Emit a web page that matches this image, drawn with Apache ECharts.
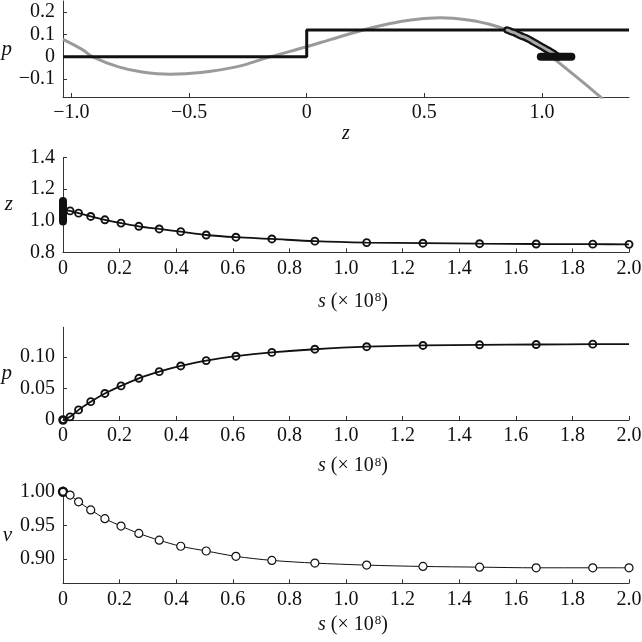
<!DOCTYPE html>
<html>
<head>
<meta charset="utf-8">
<script src="https://cdn.jsdelivr.net/npm/echarts@6/dist/echarts.min.js"></script>
<style>
html,body{margin:0;padding:0;background:#fff;}
#chart{width:642px;height:642px;}
</style>
</head>
<body>
<div id="chart"></div>
<script>
// ---- data ----
// time samples (s, x 10^8)
const sVals = [0, 0.025, 0.055, 0.098, 0.148, 0.205, 0.268, 0.34, 0.416, 0.506, 0.611, 0.738, 0.89, 1.073, 1.272, 1.472, 1.672, 1.872, 2.0];
const zVals = [1.07, 1.062, 1.048, 1.027, 1.006, 0.985, 0.965, 0.948, 0.931, 0.91, 0.896, 0.885, 0.871, 0.862, 0.858, 0.855, 0.853, 0.852, 0.851];
const pVals = [0, 0.005, 0.016, 0.029, 0.042, 0.054, 0.066, 0.0765, 0.0855, 0.094, 0.101, 0.107, 0.112, 0.116, 0.118, 0.119, 0.1195, 0.12, 0.12];
const vVals = [1.0, 0.995, 0.985, 0.973, 0.960, 0.949, 0.938, 0.928, 0.919, 0.912, 0.904, 0.898, 0.894, 0.891, 0.889, 0.888, 0.887, 0.887, 0.887];
// cluster of initial positions at s = 0
const zInit = [0.995, 1.02, 1.04, 1.06, 1.08, 1.10, 1.125];
// gray curve in the (z, p) panel
const curveZ = [-1.036, -0.95, -0.91, -0.8, -0.7, -0.58, -0.45, -0.3, -0.156, 0, 0.1, 0.24, 0.35, 0.45, 0.57, 0.7, 0.78, 0.85, 0.92, 0.98, 1.04, 1.1, 1.17, 1.26];
const curveP = [0.078, 0.03, 0.0, -0.045, -0.068, -0.078, -0.07, -0.045, 0.0, 0.045, 0.077, 0.12, 0.148, 0.166, 0.175, 0.163, 0.145, 0.122, 0.09, 0.05, 0.0, -0.05, -0.11, -0.19];
// step function
const stepZ = [-1.036, 0, 1.37];
const stepP = [0, 0.12, 0.12];
// tick values
const zTicksTop = [-1, -0.5, 0, 0.5, 1];
const pTicksTop = [-0.1, 0, 0.1, 0.2];
const sTicks = [0, 0.2, 0.4, 0.6, 0.8, 1.0, 1.2, 1.4, 1.6, 1.8, 2.0];
const zTicks = [0.8, 1.0, 1.2, 1.4];
const pTicks = [0, 0.05, 0.1];
const vTicks = [0.9, 0.95, 1.0];

// ---- helpers ----
function fmt(dec, zeroPlain) {
  return function (v) {
    if (zeroPlain && Math.abs(v) < 1e-9) return '0';
    const s = Number(v).toFixed(dec);
    return s.replace('-', '\u2212');
  };
}
const FONT = 'Liberation Serif';
const FS = 20;
const TXT = '#111';
const AX = '#333';
function xAxisCfg(grid, min, max, ticks, f, name, gap, namePad) {
  return {
    type: 'value', gridIndex: grid, min: min, max: max,
    axisLine: {show: true, onZero: false, lineStyle: {color: AX, width: 1}},
    axisTick: {show: true, inside: true, length: 4, customValues: ticks, lineStyle: {color: AX}},
    axisLabel: {show: true, customValues: ticks, formatter: f, margin: 6, fontFamily: FONT, fontSize: FS, color: TXT, showMinLabel: true, showMaxLabel: true, hideOverlap: false},
    splitLine: {show: false},
    name: name, nameLocation: 'middle', nameGap: gap,
    nameTextStyle: {fontFamily: FONT, fontSize: FS, color: TXT, padding: namePad || 0,
      rich: {it: {fontFamily: FONT, fontStyle: 'italic', fontSize: FS, color: TXT},
             n: {fontFamily: FONT, fontSize: FS, color: TXT},
             sup: {fontFamily: FONT, fontSize: 13, color: TXT, verticalAlign: 'top', padding: [0, 0, 0, 1]}}}
  };
}
function yAxisCfg(grid, min, max, ticks, f, name, gap, namePad) {
  return {
    type: 'value', gridIndex: grid, min: min, max: max,
    axisLine: {show: true, onZero: false, lineStyle: {color: AX, width: 1}},
    axisTick: {show: true, inside: true, length: 4, customValues: ticks, lineStyle: {color: AX}},
    axisLabel: {show: true, customValues: ticks, formatter: f, margin: 8, fontFamily: FONT, fontSize: FS, color: TXT, showMinLabel: true, showMaxLabel: true, hideOverlap: false},
    splitLine: {show: false},
    name: name, nameLocation: 'middle', nameRotate: 0, nameGap: gap,
    nameTextStyle: {fontFamily: FONT, fontStyle: 'italic', fontSize: 21, color: TXT, padding: namePad || 0}
  };
}
const sName = '{it|s}{n| (\u00d7 10}{sup|8}{n|)}';

function zip(a, b) { return a.map((v, i) => [v, b[i]]); }

const trajZP = zip(zVals, pVals);
const initZP = zInit.map(z => [z, pVals[0]]);
const initSZ = zInit.map(z => [sVals[0], z]);

const zSeriesData = sVals.map((s, i) => (i === 0 ? {value: [s, zVals[i]], symbol: 'none'} : [s, zVals[i]]));
const pSeriesData = sVals.map((s, i) => {
  if (i === 0) return {value: [s, pVals[i]], itemStyle: {borderWidth: 2.6}};
  if (i === sVals.length - 1) return {value: [s, pVals[i]], symbol: 'none'};
  return [s, pVals[i]];
});
const vSeriesData = sVals.map((s, i) => (i === 0 ? {value: [s, vVals[i]], itemStyle: {borderWidth: 2.4}} : [s, vVals[i]]));

const chart = echarts.init(document.getElementById('chart'), null, {renderer: 'canvas'});
chart.setOption({
  animation: false,
  backgroundColor: '#fff',
  grid: [
    {left: 63, right: 13, top: 1, height: 96, containLabel: false, outerBoundsMode: 'none'},
    {left: 63, right: 13, top: 157.4, height: 95, containLabel: false, outerBoundsMode: 'none'},
    {left: 63, right: 13, top: 327.3, height: 92.7, containLabel: false, outerBoundsMode: 'none'},
    {left: 63, right: 13, top: 487, height: 96.3, containLabel: false, outerBoundsMode: 'none'}
  ],
  xAxis: [
    xAxisCfg(0, -1.036, 1.37, zTicksTop, fmt(1, true), '{it|z}', 18),
    xAxisCfg(1, 0, 2, sTicks, fmt(1, true), sName, 39, [0, 0, 0, 14]),
    xAxisCfg(2, 0, 2, sTicks, fmt(1, true), sName, 36, [0, 0, 0, 14]),
    xAxisCfg(3, 0, 2, sTicks, fmt(1, true), sName, 31, [0, 0, 0, 14])
  ],
  yAxis: [
    yAxisCfg(0, -0.18, 0.25, pTicksTop, fmt(1, true), 'p', 51, [0, 0, 8, 0]),
    yAxisCfg(1, 0.8, 1.4, zTicks, fmt(1, false), 'z', 50, [0, 0, 4, 0]),
    yAxisCfg(2, 0, 0.1467, pTicks, fmt(2, true), 'p', 51, [0, 0, 40, 0]),
    yAxisCfg(3, 0.864, 1.007, vTicks, fmt(2, false), 'v', 51, [6, 0, 0, 0])
  ],
  series: [
    {type: 'line', xAxisIndex: 0, yAxisIndex: 0, data: zip(curveZ, curveP), smooth: 0.4, showSymbol: false,
     lineStyle: {color: '#9a9a9a', width: 3}, clip: true, z: 1},
    {type: 'line', xAxisIndex: 0, yAxisIndex: 0, data: zip(stepZ, stepP), step: 'end', showSymbol: false,
     lineStyle: {color: '#111', width: 3}, clip: true, z: 2},
    {type: 'line', xAxisIndex: 0, yAxisIndex: 0, data: trajZP, smooth: 0.3, showSymbol: false,
     lineStyle: {color: '#111', width: 7.5, cap: 'round', join: 'round'}, z: 3},
    {type: 'line', xAxisIndex: 0, yAxisIndex: 0, data: trajZP, smooth: 0.3, showSymbol: false,
     lineStyle: {color: '#a8a8a8', width: 3, cap: 'round'}, z: 4},
    {type: 'line', xAxisIndex: 0, yAxisIndex: 0, data: initZP, showSymbol: false,
     lineStyle: {color: '#111', width: 8, cap: 'round'}, z: 5},

    {type: 'line', xAxisIndex: 1, yAxisIndex: 1, data: zSeriesData, smooth: 0.3, symbol: 'circle', symbolSize: 7,
     showAllSymbol: true,
     itemStyle: {color: 'rgba(0,0,0,0)', borderColor: '#111', borderWidth: 1.9},
     lineStyle: {color: '#111', width: 1.8}, z: 3},
    {type: 'line', xAxisIndex: 1, yAxisIndex: 1, data: initSZ, showSymbol: false,
     lineStyle: {color: '#111', width: 8, cap: 'round'}, z: 4},

    {type: 'line', xAxisIndex: 2, yAxisIndex: 2, data: pSeriesData, smooth: 0.3, symbol: 'circle', symbolSize: 7,
     showAllSymbol: true,
     itemStyle: {color: 'rgba(0,0,0,0)', borderColor: '#111', borderWidth: 1.9},
     lineStyle: {color: '#111', width: 1.8}, z: 3},

    {type: 'line', xAxisIndex: 3, yAxisIndex: 3, data: vSeriesData, smooth: 0.3, symbol: 'circle', symbolSize: 8,
     showAllSymbol: true,
     itemStyle: {color: '#fff', borderColor: '#111', borderWidth: 1.2},
     lineStyle: {color: '#111', width: 1}, z: 3}
  ]
});
</script>
</body>
</html>
